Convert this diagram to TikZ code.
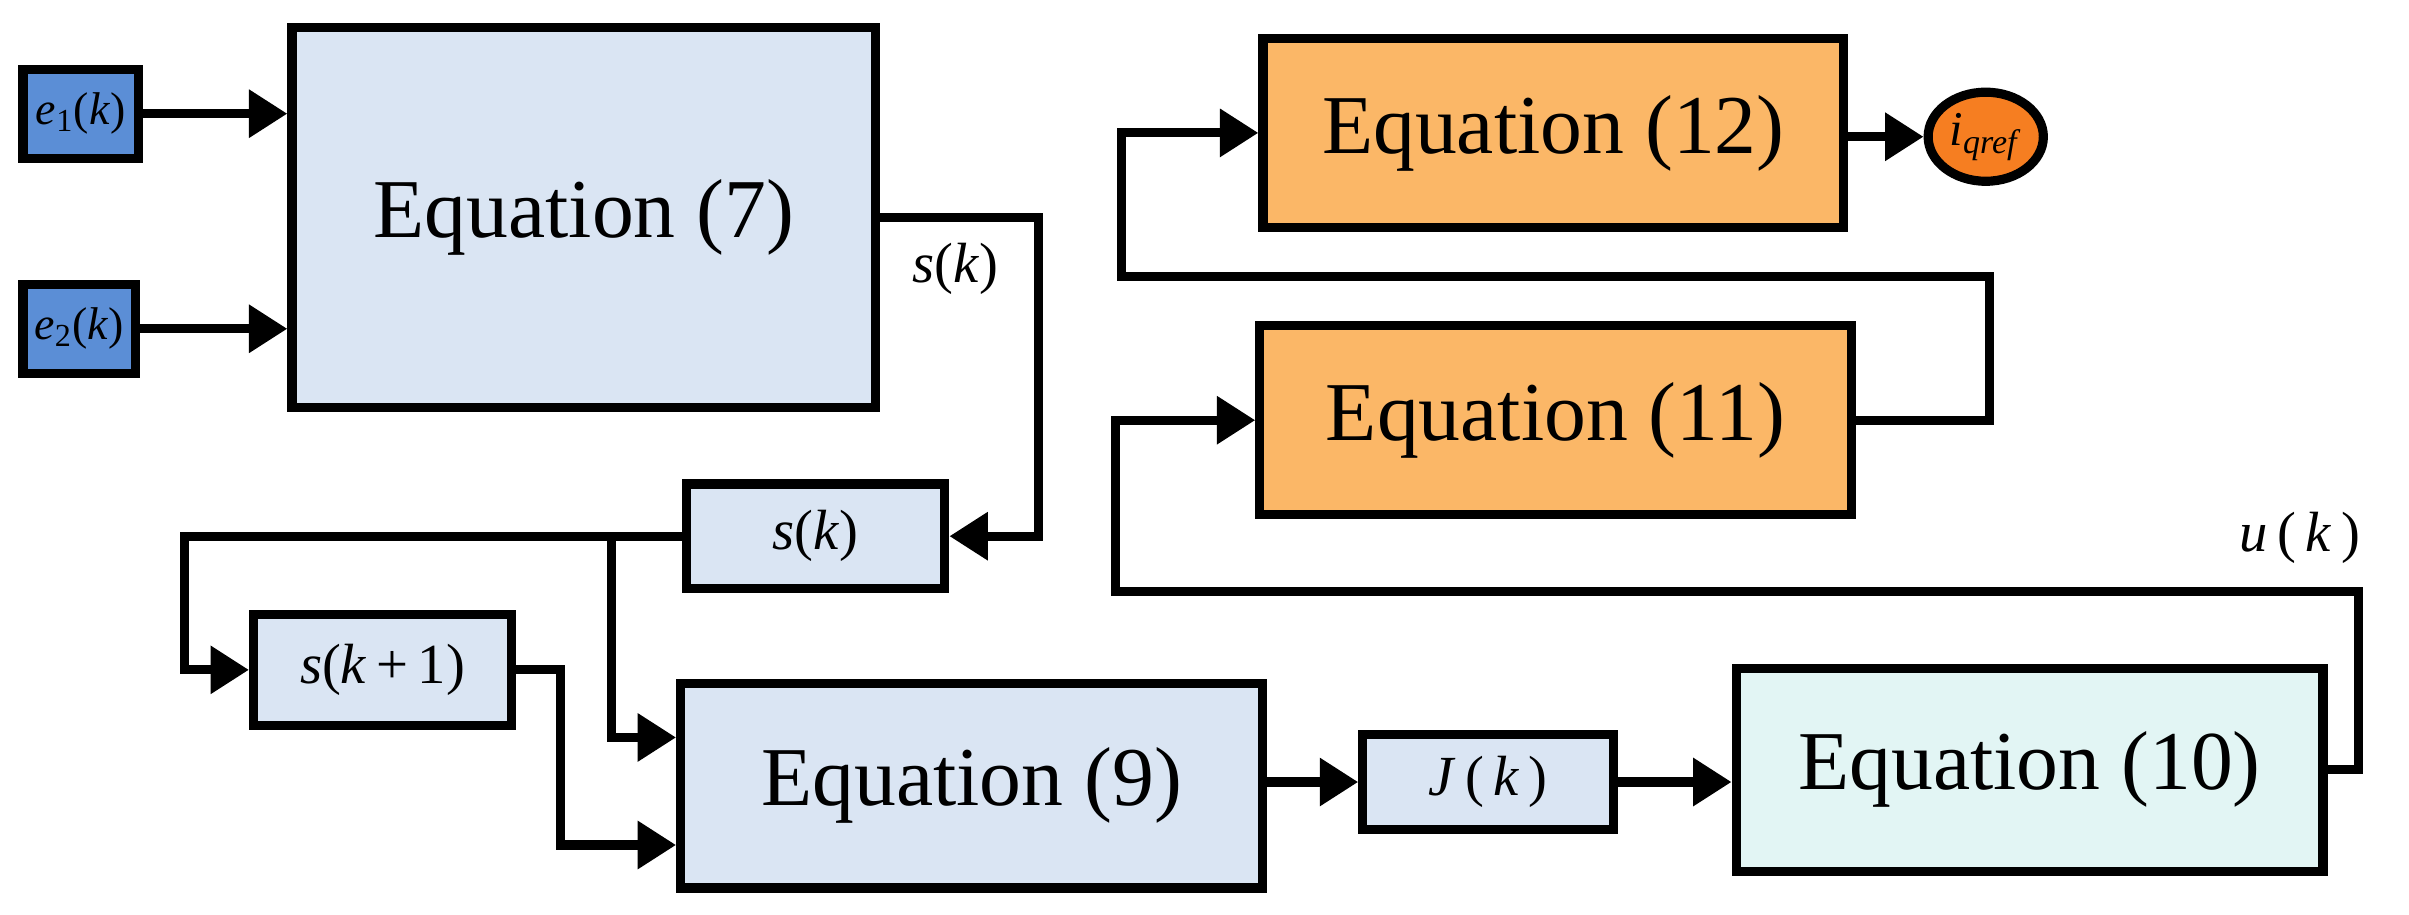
\documentclass[tikz,border=0pt]{standalone}
\usepackage{fontspec}
\setmainfont{Liberation Serif}
\usetikzlibrary{arrows.meta,shapes.geometric}
\definecolor{eblue}{HTML}{5B8ED6}
\definecolor{lblue}{HTML}{DAE5F3}
\definecolor{orng}{HTML}{FBB767}
\definecolor{dorng}{HTML}{F67E21}
\definecolor{lcyan}{HTML}{E2F5F4}
\newcommand{\vi}[1]{\textit{#1}}
\begin{document}
\begin{tikzpicture}[x=0.02cm,y=-0.02cm,
  box/.style={draw=black,line width=3.4pt,inner sep=0pt},
  big/.style={box,font=\fontsize{31}{36}\selectfont},
  small/.style={box,font=\fontsize{21}{24}\selectfont},
  arr/.style={line width=3.4pt,-{Triangle[length=0.5cm,width=0.6cm]}},
  ln/.style={line width=3.4pt}]
\useasboundingbox (0,0) rectangle (1568,595);
\node[box,font=\fontsize{17}{20}\selectfont,fill=eblue,minimum width=1.5cm,minimum height=1.16cm] (e1) at (52.5,74) {\vi{e}\textsubscript{1}(\vi{k})};
\node[box,font=\fontsize{17}{20}\selectfont,fill=eblue,minimum width=1.46cm,minimum height=1.16cm] (e2) at (51.5,214) {\vi{e}\textsubscript{2}(\vi{k})};
\node[big,fill=lblue,minimum width=7.6cm,minimum height=4.94cm] (eq7) at (380,141.5) {Equation (7)};
\node[small,fill=lblue,minimum width=3.36cm,minimum height=1.36cm] (sk) at (531,349) {\vi{s}(\vi{k})};
\node[small,fill=lblue,minimum width=3.36cm,minimum height=1.44cm] (sk1) at (249,436) {\vi{s}(\vi{k}\,+\,1)};
\node[big,fill=lblue,minimum width=7.58cm,minimum height=2.66cm] (eq9) at (632.5,511.5) {Equation (9)};
\node[small,fill=lblue,minimum width=3.26cm,minimum height=1.24cm] (J) at (968.5,509) {\vi{J}\,(\,\vi{k}\,)};
\node[big,fill=lcyan,minimum width=7.64cm,minimum height=2.64cm] (eq10) at (1321,501) {Equation (10)};
\node[big,fill=orng,minimum width=7.7cm,minimum height=2.46cm] (eq11) at (1012.5,273.5) {Equation (11)};
\node[big,fill=orng,minimum width=7.56cm,minimum height=2.46cm] (eq12) at (1011,86.5) {Equation (12)};
\node[ellipse,draw=black,line width=3.4pt,fill=dorng,minimum width=1.5cm,minimum height=1.16cm,inner sep=0pt,font=\fontsize{18}{20}\selectfont] (ell) at (1292.5,89) {\vi{i}\textsubscript{\vi{qref}}};
\node[font=\fontsize{21}{24}\selectfont] (lsk) at (622,175) {\vi{s}(\vi{k})};
\node[font=\fontsize{21}{24}\selectfont] (luk) at (1497,350) {\vi{u}\,(\,\vi{k}\,)};
\coordinate (c1) at (676,141.5);
\coordinate (c2) at (676,349);
\coordinate (c3) at (120,349);
\coordinate (b) at (398,349);
\coordinate (c4) at (365,436);
\coordinate (c5) at (1535,501);
\coordinate (c6) at (1535,385);
\coordinate (c7) at (726,385);
\coordinate (c8) at (1295,273.5);
\coordinate (c9) at (1295,180);
\coordinate (c10) at (730,180);
\draw[arr] (e1) -- (e1 -| eq7.west);
\draw[arr] (e2) -- (e2 -| eq7.west);
\draw[arr] (eq7.east) -- (c1) -- (c2) -- (sk.east);
\draw[arr] (sk.west) -- (c3) |- (sk1.west);
\draw[arr] (b) |- (eq9.west |- 0,480);
\draw[arr] (sk1.east) -- (c4) |- (eq9.west |- 0,550);
\draw[arr] (eq9.east |- J) -- (J.west);
\draw[arr] (J.east) -- (J.east -| eq10.west);
\draw[arr] (eq10.east) -- (c5) -- (c6) -- (c7) |- (eq11.west);
\draw[arr] (eq11.east) -- (c8) -- (c9) -- (c10) |- (eq12.west);
\draw[arr] (eq12.east |- ell) -- (ell.west);
\end{tikzpicture}
\end{document}
